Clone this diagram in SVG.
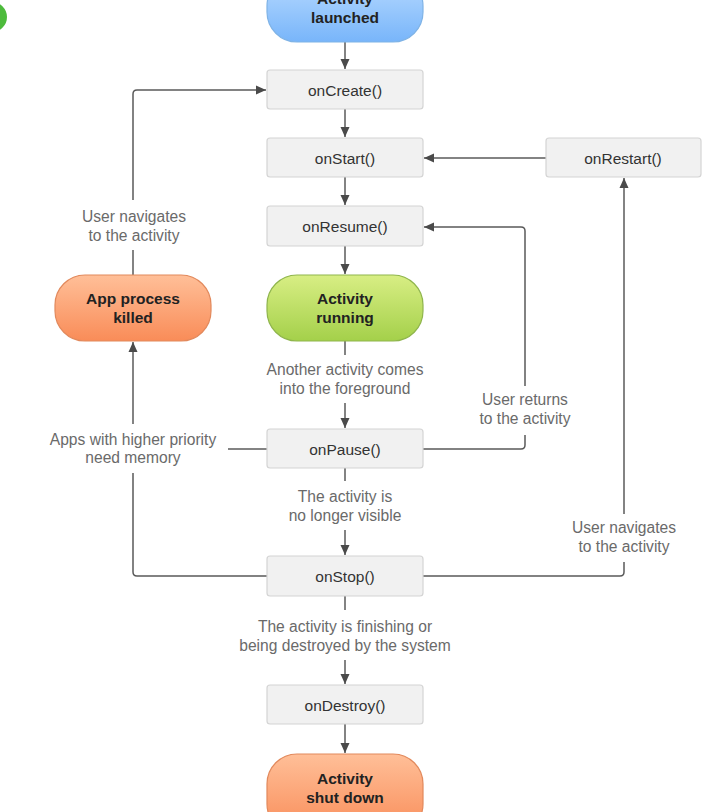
<svg xmlns="http://www.w3.org/2000/svg" width="710" height="812" viewBox="0 0 710 812">
<defs>
<style>
.box{fill:#f1f1f1;stroke:#d4d4d4;stroke-width:1.2}
.bt{font-family:"Liberation Sans",Arial,sans-serif;font-size:15.5px;fill:#333;text-anchor:middle}
.pt{font-family:"Liberation Sans",Arial,sans-serif;font-size:15.5px;font-weight:bold;fill:#222;text-anchor:middle}
.lt{font-family:"Liberation Sans",Arial,sans-serif;font-size:15.6px;fill:#6a6a6a;text-anchor:middle}
.ln{fill:none;stroke:#5a5a5a;stroke-width:1.5}
</style>
<linearGradient id="gBlue" x1="0" y1="0" x2="0" y2="1">
<stop offset="0" stop-color="#b9dbff"/><stop offset="1" stop-color="#78b5fa"/>
</linearGradient>
<linearGradient id="gGreen" x1="0" y1="0" x2="0" y2="1">
<stop offset="0" stop-color="#d8ee84"/><stop offset="1" stop-color="#a4d04a"/>
</linearGradient>
<linearGradient id="gOrange" x1="0" y1="0" x2="0" y2="1">
<stop offset="0" stop-color="#ffbf98"/><stop offset="1" stop-color="#f98c58"/>
</linearGradient>
</defs>
<rect width="710" height="812" fill="#ffffff"/>
<circle cx="-8" cy="17" r="15" fill="#4dbb3c"/>

<g id="connectors">
<path class="ln" d="M345 42 V69"/>
<path class="ln" d="M345 109 V137"/>
<path class="ln" d="M345 177 V205"/>
<path class="ln" d="M345 246 V274"/>
<path class="ln" d="M345 341 V355"/>
<path class="ln" d="M345 403 V428"/>
<path class="ln" d="M345 468 V481"/>
<path class="ln" d="M345 530 V555"/>
<path class="ln" d="M345 596 V610"/>
<path class="ln" d="M345 660 V684"/>
<path class="ln" d="M345 724 V753"/>
<path class="ln" d="M546 158 H424"/>
<path class="ln" d="M423 576 H620 Q624 576 624 572 V562"/>
<path class="ln" d="M624 514 V178"/>
<path class="ln" d="M423 449 H521 Q525 449 525 445 V435"/>
<path class="ln" d="M525 386 V231 Q525 227 521 227 H424"/>
<path class="ln" d="M267 576 H137 Q133 576 133 572 V473"/>
<path class="ln" d="M133 424 V342"/>
<path class="ln" d="M267 449 H228"/>
<path class="ln" d="M133 275 V250"/>
<path class="ln" d="M133 200 V94 Q133 90 137 90 H266"/>
<g fill="#4a4a4a">
<path d="M340.5 59 L349.5 59 L345 69 z"/>
<path d="M340.5 127 L349.5 127 L345 137 z"/>
<path d="M340.5 195 L349.5 195 L345 205 z"/>
<path d="M340.5 264 L349.5 264 L345 274 z"/>
<path d="M340.5 418 L349.5 418 L345 428 z"/>
<path d="M340.5 545 L349.5 545 L345 555 z"/>
<path d="M340.5 674 L349.5 674 L345 684 z"/>
<path d="M340.5 743 L349.5 743 L345 753 z"/>
<path d="M434 153.5 L434 162.5 L424 158 z"/>
<path d="M434 222.5 L434 231.5 L424 227 z"/>
<path d="M256 85.5 L256 94.5 L266 90 z"/>
<path d="M619.5 188 L628.5 188 L624 178 z"/>
<path d="M128.5 352 L137.5 352 L133 342 z"/>
</g>
</g>

<g id="launched">
<rect x="267" y="-24" width="156" height="66" rx="30" fill="url(#gBlue)" stroke="#7fb3e6" stroke-width="1.2"/>
<text class="pt" x="345" y="4">Activity</text>
<text class="pt" x="345" y="23">launched</text>
</g>
<g id="onCreate">
<rect class="box" x="267" y="70" width="156" height="39" rx="3"/>
<text class="bt" x="345" y="96">onCreate()</text>
</g>
<g id="onStart">
<rect class="box" x="267" y="138" width="156" height="39" rx="3"/>
<text class="bt" x="345" y="164">onStart()</text>
</g>
<g id="onRestart">
<rect class="box" x="546" y="138" width="155" height="39" rx="3"/>
<text class="bt" x="623" y="164">onRestart()</text>
</g>
<g id="onResume">
<rect class="box" x="267" y="206" width="156" height="40" rx="3"/>
<text class="bt" x="345" y="232">onResume()</text>
</g>
<g id="running">
<rect x="267" y="275" width="156" height="66" rx="30" fill="url(#gGreen)" stroke="#8fb54c" stroke-width="1.2"/>
<text class="pt" x="345" y="304">Activity</text>
<text class="pt" x="345" y="323">running</text>
</g>
<g id="killed">
<rect x="55" y="275" width="156" height="66" rx="30" fill="url(#gOrange)" stroke="#e2895c" stroke-width="1.2"/>
<text class="pt" x="133" y="304">App process</text>
<text class="pt" x="133" y="323">killed</text>
</g>
<g id="onPause">
<rect class="box" x="267" y="429" width="156" height="39" rx="3"/>
<text class="bt" x="345" y="455">onPause()</text>
</g>
<g id="onStop">
<rect class="box" x="267" y="556" width="156" height="40" rx="3"/>
<text class="bt" x="345" y="582">onStop()</text>
</g>
<g id="onDestroy">
<rect class="box" x="267" y="685" width="156" height="39" rx="3"/>
<text class="bt" x="345" y="711">onDestroy()</text>
</g>
<g id="shutdown">
<rect x="267" y="754" width="156" height="80" rx="30" fill="url(#gOrange)" stroke="#e2895c" stroke-width="1.2"/>
<text class="pt" x="345" y="784">Activity</text>
<text class="pt" x="345" y="803">shut down</text>
</g>

<g id="labels">
<text class="lt" x="345" y="375">Another activity comes</text>
<text class="lt" x="345" y="394">into the foreground</text>
<text class="lt" x="345" y="502">The activity is</text>
<text class="lt" x="345" y="521">no longer visible</text>
<text class="lt" x="345" y="632">The activity is finishing or</text>
<text class="lt" x="345" y="651">being destroyed by the system</text>
<text class="lt" x="525" y="405">User returns</text>
<text class="lt" x="525" y="424">to the activity</text>
<text class="lt" x="624" y="533">User navigates</text>
<text class="lt" x="624" y="552">to the activity</text>
<text class="lt" x="134" y="222">User navigates</text>
<text class="lt" x="134" y="241">to the activity</text>
<text class="lt" x="133" y="445">Apps with higher priority</text>
<text class="lt" x="133" y="463">need memory</text>
</g>
</svg>
